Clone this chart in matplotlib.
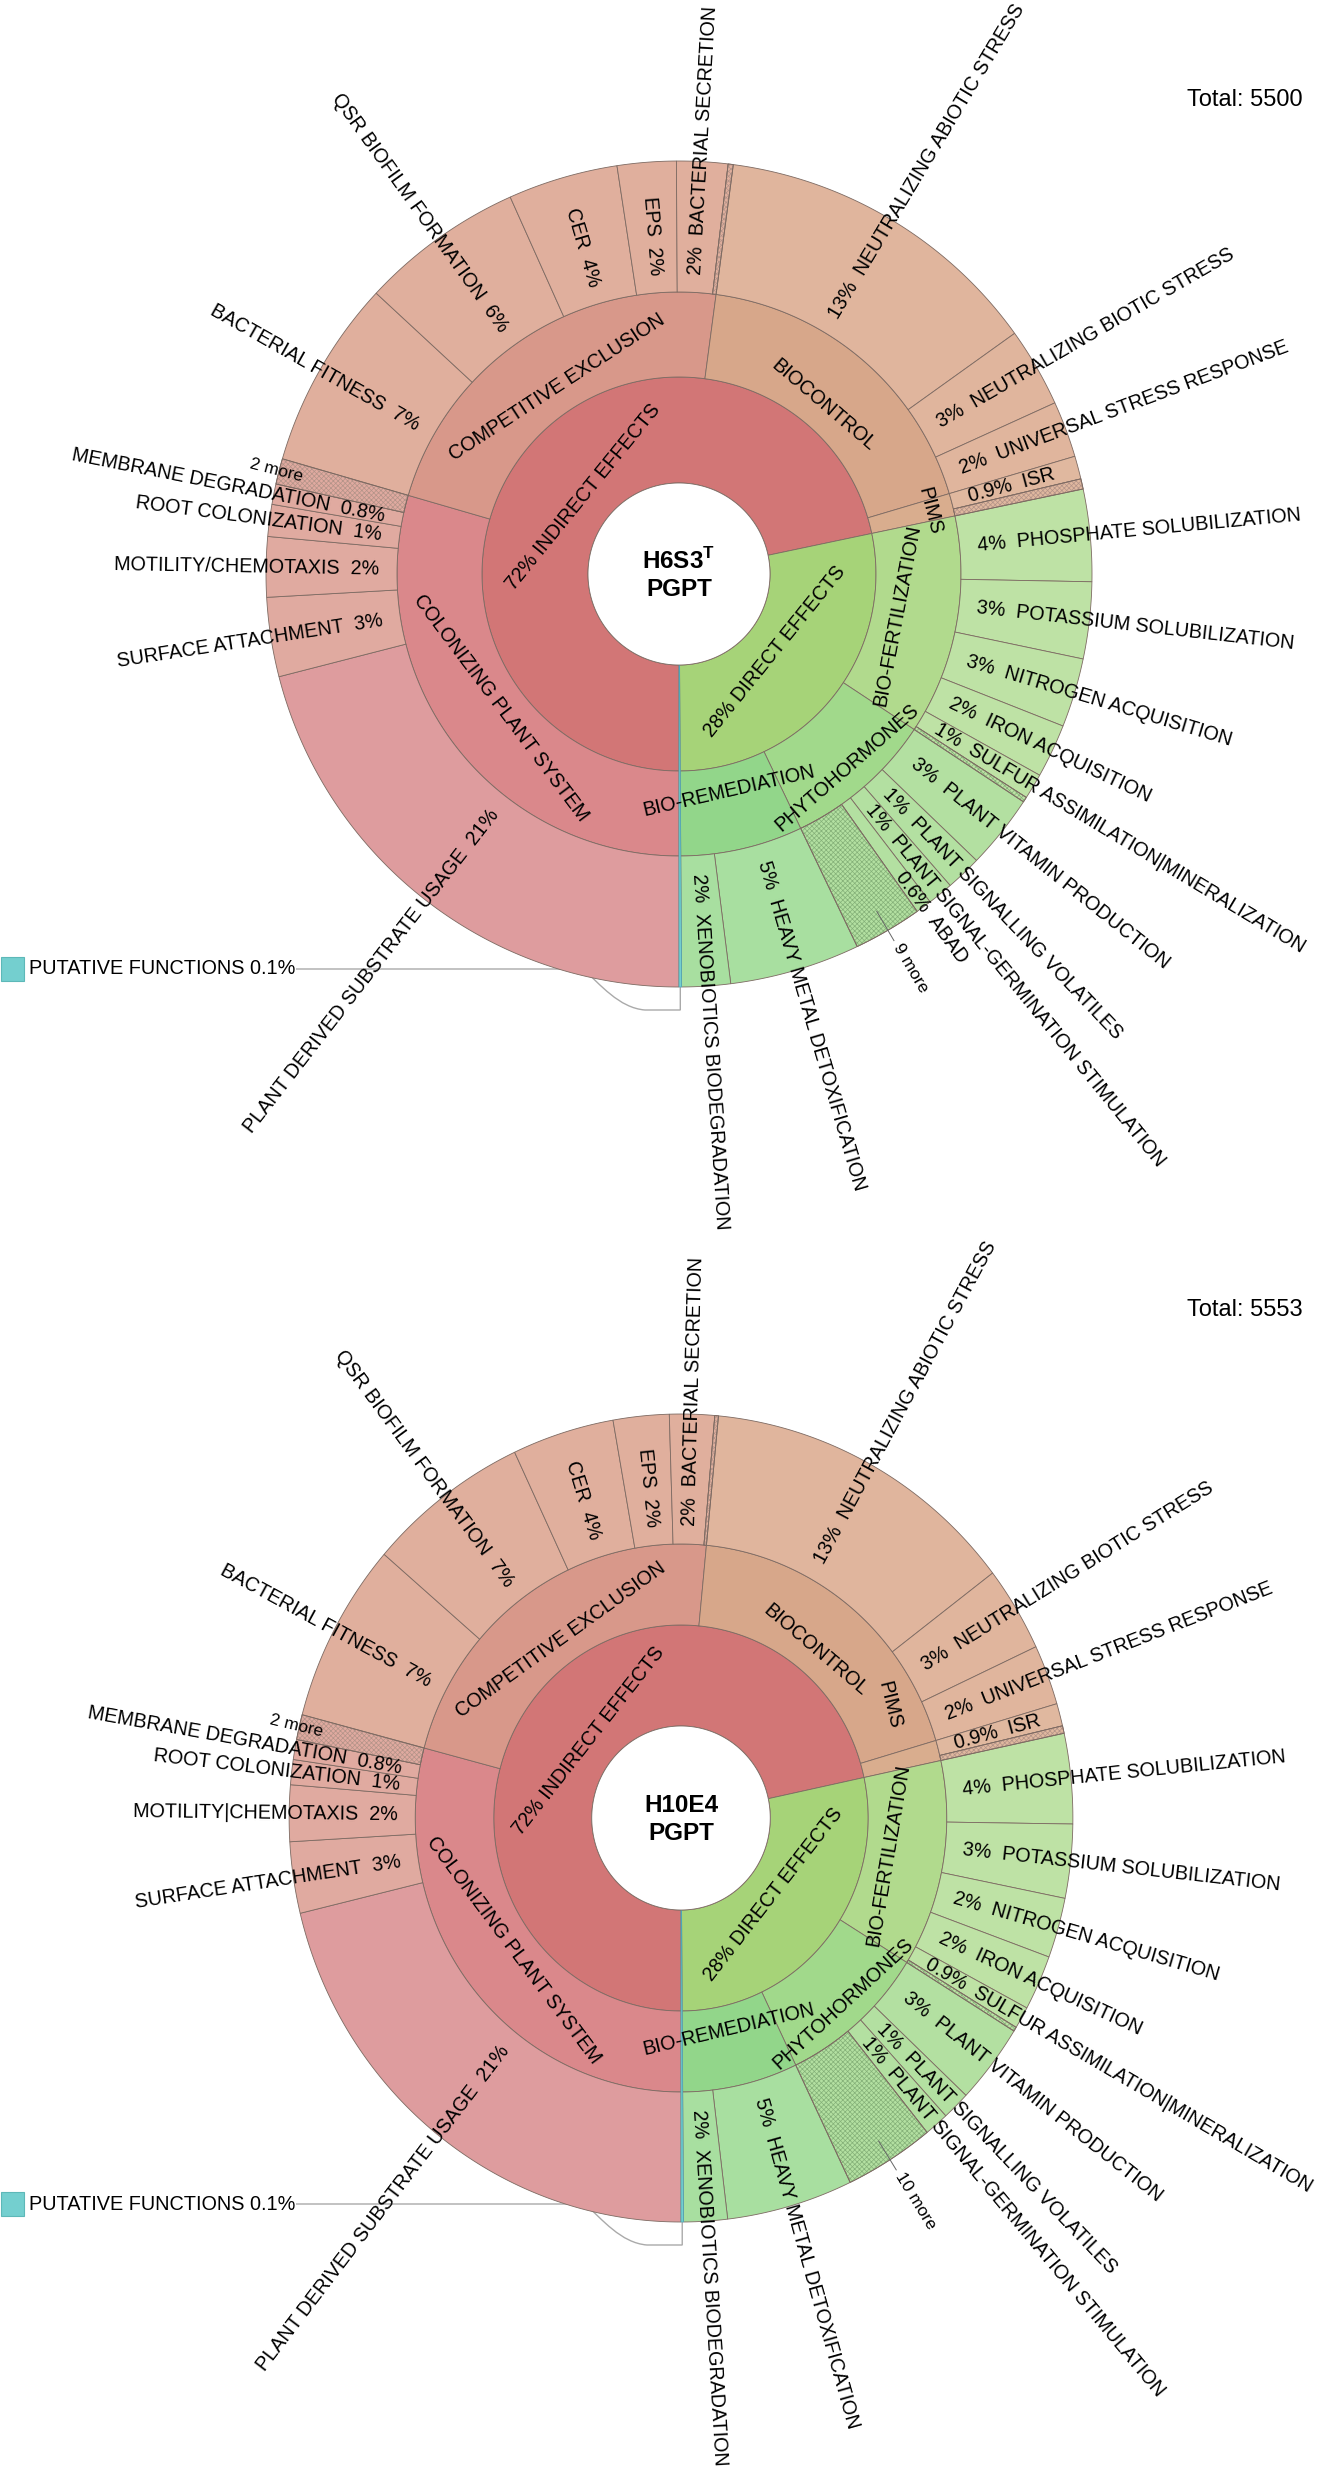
import numpy as np
import matplotlib
matplotlib.use("Agg")
import matplotlib.pyplot as plt
from matplotlib.patches import Polygon, Rectangle, PathPatch
from matplotlib.path import Path

plt.rcParams['font.family'] = ['Liberation Sans', 'DejaVu Sans']
plt.rcParams['mathtext.fontset'] = 'custom'
plt.rcParams['mathtext.rm'] = 'Liberation Sans'
plt.rcParams['mathtext.bf'] = 'Liberation Sans:bold'
plt.rcParams['hatch.linewidth'] = 0.5

# ---------------- data ----------------
top_names = ["INDIRECT EFFECTS", "DIRECT EFFECTS", "PUTATIVE FUNCTIONS"]
mid_names = ["COLONIZING PLANT SYSTEM", "COMPETITIVE EXCLUSION", "BIOCONTROL", "PIMS",
             "BIO-FERTILIZATION", "PHYTOHORMONES", "BIO-REMEDIATION", "PUTATIVE"]
mid_parents = ["INDIRECT EFFECTS"] * 4 + ["DIRECT EFFECTS"] * 3 + ["PUTATIVE FUNCTIONS"]

# chart 1: H6S3T  (values in % of total, clockwise from 6 o'clock)
h6_leaf_names = [
    "PLANT DERIVED SUBSTRATE USAGE", "SURFACE ATTACHMENT", "MOTILITY/CHEMOTAXIS",
    "ROOT COLONIZATION", "MEMBRANE DEGRADATION", "2 more",
    "BACTERIAL FITNESS", "QSR BIOFILM FORMATION", "CER", "EPS", "BACTERIAL SECRETION", "",
    "NEUTRALIZING ABIOTIC STRESS", "NEUTRALIZING BIOTIC STRESS", "UNIVERSAL STRESS RESPONSE",
    "ISR", "",
    "PHOSPHATE SOLUBILIZATION", "POTASSIUM SOLUBILIZATION", "NITROGEN ACQUISITION",
    "IRON ACQUISITION", "SULFUR ASSIMILATION|MINERALIZATION", "",
    "PLANT VITAMIN PRODUCTION", "PLANT SIGNALLING VOLATILES",
    "PLANT SIGNAL-GERMINATION STIMULATION", "ABAD", "9 more",
    "HEAVY METAL DETOXIFICATION", "XENOBIOTICS BIODEGRADATION",
    "PUTATIVE FUNCTIONS"]
h6_leaf_parents = (["COLONIZING PLANT SYSTEM"] * 6 + ["COMPETITIVE EXCLUSION"] * 6 +
                   ["BIOCONTROL"] * 3 + ["PIMS"] * 2 + ["BIO-FERTILIZATION"] * 6 +
                   ["PHYTOHORMONES"] * 5 + ["BIO-REMEDIATION"] * 2 + ["PUTATIVE"])
h6_leaf_values = [21.0, 3.1, 2.35, 1.25, 0.8, 1.0,
                  7.4, 6.4, 4.3, 2.3, 2.0, 0.2,
                  13.0, 3.1, 2.2,
                  0.9, 0.4,
                  3.6, 3.0, 2.7, 2.1, 1.0, 0.2,
                  2.9, 1.4, 1.0, 0.62, 2.68,
                  5.1, 1.9,
                  0.1]
h6_total = 5500

# chart 2: H10E4
h10_leaf_names = [
    "PLANT DERIVED SUBSTRATE USAGE", "SURFACE ATTACHMENT", "MOTILITY|CHEMOTAXIS",
    "ROOT COLONIZATION", "MEMBRANE DEGRADATION", "2 more",
    "BACTERIAL FITNESS", "QSR BIOFILM FORMATION", "CER", "EPS", "BACTERIAL SECRETION", "",
    "NEUTRALIZING ABIOTIC STRESS", "NEUTRALIZING BIOTIC STRESS", "UNIVERSAL STRESS RESPONSE",
    "ISR", "",
    "PHOSPHATE SOLUBILIZATION", "POTASSIUM SOLUBILIZATION", "NITROGEN ACQUISITION",
    "IRON ACQUISITION", "SULFUR ASSIMILATION|MINERALIZATION", "",
    "PLANT VITAMIN PRODUCTION", "PLANT SIGNALLING VOLATILES",
    "PLANT SIGNAL-GERMINATION STIMULATION", "10 more",
    "HEAVY METAL DETOXIFICATION", "XENOBIOTICS BIODEGRADATION",
    "PUTATIVE FUNCTIONS"]
h10_leaf_parents = (["COLONIZING PLANT SYSTEM"] * 6 + ["COMPETITIVE EXCLUSION"] * 6 +
                    ["BIOCONTROL"] * 3 + ["PIMS"] * 2 + ["BIO-FERTILIZATION"] * 6 +
                    ["PHYTOHORMONES"] * 4 + ["BIO-REMEDIATION"] * 2 + ["PUTATIVE"])
h10_leaf_values = [21.2, 2.85, 2.25, 1.0, 0.8, 1.0,
                   7.2, 6.7, 4.2, 2.3, 1.85, 0.15,
                   13.1, 3.4, 2.4,
                   0.9, 0.3,
                   3.6, 2.95, 2.4, 2.2, 0.88, 0.17,
                   3.2, 1.15, 1.0, 3.7,
                   5.2, 1.8,
                   0.1]
h10_total = 5553

# ---------------- style ----------------
TOP_COLOR = {"INDIRECT EFFECTS": "#D27676", "DIRECT EFFECTS": "#A6D378",
             "PUTATIVE FUNCTIONS": "#74CFCF"}
MID_COLOR = {"COLONIZING PLANT SYSTEM": "#DA888B", "COMPETITIVE EXCLUSION": "#D8988A",
             "BIOCONTROL": "#D7A78A", "PIMS": "#D9AD8E", "BIO-FERTILIZATION": "#B1DA8D",
             "PHYTOHORMONES": "#A1D98B", "BIO-REMEDIATION": "#92D68A", "PUTATIVE": "#74CFCF"}
LEAF_COLOR = {"COLONIZING PLANT SYSTEM": "#E0AAA0", "COMPETITIVE EXCLUSION": "#E0AF9D",
              "BIOCONTROL": "#E0B59D", "PIMS": "#E0B89F", "BIO-FERTILIZATION": "#BEE2A5",
              "PHYTOHORMONES": "#B3E0A1", "BIO-REMEDIATION": "#A8DFA0", "PUTATIVE": "#74CFCF"}
LEAF_OVERRIDE = {"PLANT DERIVED SUBSTRATE USAGE": "#DE9C9E"}
HATCH_RED = "#B39388"
HATCH_GREEN = "#84B078"
EDGE = "#7d6a62"
FS = 14.2

MID_LABEL_FRAC = {"PHYTOHORMONES": 0.7, "PIMS": 0.72}


def P(cx, cy, sx, r, th):
    t = np.radians(th)
    return cx + sx * r * np.sin(t), cy - r * np.cos(t)


def sector(ax, cx, cy, sx, ri, ro, t1, t2, fc, hatch_col=None, ec=EDGE, lw=0.6, z=2):
    n = max(4, int(abs(t2 - t1) * 2))
    th = np.linspace(t1, t2, n)
    xo, yo = P(cx, cy, sx, ro, th)
    xi, yi = P(cx, cy, sx, ri, th[::-1])
    pts = np.column_stack([np.concatenate([xo, xi]), np.concatenate([yo, yi])])
    ax.add_patch(Polygon(pts, closed=True, facecolor=fc, edgecolor=ec, linewidth=lw, zorder=z))
    if hatch_col is not None:
        ax.add_patch(Polygon(pts, closed=True, facecolor='none', edgecolor=hatch_col,
                             linewidth=0, hatch='xxxxxxx', zorder=z + 0.1))
        ax.add_patch(Polygon(pts, closed=True, facecolor='none', edgecolor=ec,
                             linewidth=lw, zorder=z + 0.2))


def rot_out(sx, th):
    t = np.radians(th)
    return np.degrees(np.arctan2(np.cos(t), sx * np.sin(t)))


def norm180(a):
    return (a + 180) % 360 - 180


def radial_text(ax, cx, cy, sx, r, th, s, size, anchor='start'):
    x, y = P(cx, cy, sx, r, th)
    ro = rot_out(sx, th)
    right = (th % 360) < 180
    if right:
        rot, ha = ro, 'left'
    else:
        rot, ha = norm180(ro + 180), 'right'
    if anchor == 'center':
        ha = 'center'
    ax.text(x, y, s, rotation=rot, rotation_mode='anchor', ha=ha, va='center',
            fontsize=size, zorder=6)


def tangential_text(ax, cx, cy, sx, r, th, s, size, th_rot=None):
    x, y = P(cx, cy, sx, r, th)
    t = np.radians(th if th_rot is None else th_rot)
    rot = np.degrees(np.arctan2(-np.sin(t), sx * np.cos(t)))
    if rot > 90:
        rot -= 180
    elif rot <= -90:
        rot += 180
    ax.text(x, y, s, rotation=rot, rotation_mode='anchor', ha='center', va='center',
            fontsize=size, zorder=6)


def pct_str(p):
    if p >= 0.95:
        return f"{p:.0f}%"
    return f"{p:.1f}%"


def draw_chart(ax, cx, cy, radii, sx, names, parents, values, total, title,
               total_y, label_start_extra, mid_label_pos):
    r0, r1, r2, r3 = radii
    vals = np.asarray(values, float)
    tot = vals.sum()
    edges = 180 + np.concatenate([[0.0], np.cumsum(vals)]) / tot * 360.0
    pcts = vals / tot * 100

    mids = {}
    for m in mid_names:
        idx = [i for i, p in enumerate(parents) if p == m]
        mids[m] = (edges[min(idx)], edges[max(idx) + 1], pcts[idx].sum())
    tops = {}
    for tname in top_names:
        ms = [m for m, p in zip(mid_names, mid_parents) if p == tname]
        tops[tname] = (min(mids[m][0] for m in ms), max(mids[m][1] for m in ms),
                       sum(mids[m][2] for m in ms))

    # ring 1
    for tname, (t1, t2, p) in tops.items():
        if tname == "PUTATIVE FUNCTIONS":
            continue
        sector(ax, cx, cy, sx, r0, r1, t1, t2, TOP_COLOR[tname])
        tangential_text(ax, cx, cy, sx, r0 + 0.3 * (r1 - r0), (t1 + t2) / 2,
                        f"{p:.0f}% {tname}", FS)
    # ring 2
    for m, (t1, t2, p) in mids.items():
        if m == "PUTATIVE":
            continue
        sector(ax, cx, cy, sx, r1, r2, t1, t2, MID_COLOR[m])
        frac = MID_LABEL_FRAC.get(m, 0.3)
        tm = (t1 + t2) / 2
        if m in mid_label_pos:
            frac, dth = mid_label_pos[m]
            tangential_text(ax, cx, cy, sx, r1 + frac * (r2 - r1), tm + dth, m, FS, th_rot=tm)
        else:
            tangential_text(ax, cx, cy, sx, r1 + frac * (r2 - r1), tm, m, FS)
    # ring 3 (leaves)
    for i, (nm, par) in enumerate(zip(names, parents)):
        if par == "PUTATIVE":
            continue
        t1, t2 = edges[i], edges[i + 1]
        tm = (t1 + t2) / 2
        fc = LEAF_OVERRIDE.get(nm, LEAF_COLOR[par])
        is_more = nm == "" or nm.endswith(" more")
        hc = None
        if is_more:
            d1, d2, _ = tops["DIRECT EFFECTS"]
            hc = HATCH_GREEN if d1 <= tm <= d2 else HATCH_RED
        sector(ax, cx, cy, sx, r2, r3, t1, t2, fc, hatch_col=hc)
        if nm == "":
            continue
        if nm.endswith(" more"):
            if (tm % 360) < 180:
                xa, ya = P(cx, cy, sx, r3 - 22, tm)
                xb, yb = P(cx, cy, sx, r3 + 12, tm)
                ax.plot([xa, xb], [ya, yb], color='#666666', lw=0.7, zorder=6)
                radial_text(ax, cx, cy, sx, r3 + 17, tm, nm, 12.5)
            else:
                radial_text(ax, cx, cy, sx, r3 + 3, tm, nm, 12.5, anchor='center')
            continue
        ps = pct_str(pcts[i])
        s = f"{ps}  {nm}" if (tm % 360) < 180 else f"{nm}  {ps}"
        rs = r2 + 18 + label_start_extra.get(nm, 0)
        radial_text(ax, cx, cy, sx, rs, tm, s, FS)

    # putative functions: thin wedge through all rings + external label
    pt1, pt2, pp = tops["PUTATIVE FUNCTIONS"]
    sector(ax, cx, cy, sx, r0, r3, pt1, pt2, TOP_COLOR["PUTATIVE FUNCTIONS"],
           ec="#4aa7b8", lw=0.5, z=3)
    ly = cy + r3 - 18
    ax.add_patch(Rectangle((1, ly - 12), 23, 24, facecolor="#74CFCF",
                           edgecolor="#5DB8B8", lw=0.8, zorder=6))
    ax.text(29, ly, f"PUTATIVE FUNCTIONS {pct_str(pp)}",
            ha='left', va='center', fontsize=14.3, zorder=6)
    xe, ye = P(cx, cy, sx, r3, (pt1 + pt2) / 2)
    yb = cy + r3 + 23
    verts = [(296, ly), (cx - 96, ly), (cx - 79, ly + 15), (cx - 60, yb - 2),
             (cx - 34, yb), (xe, yb), (xe, ye)]
    codes = [Path.MOVETO, Path.LINETO, Path.CURVE4, Path.CURVE4, Path.CURVE4,
             Path.LINETO, Path.LINETO]
    ax.add_patch(PathPatch(Path(verts, codes), facecolor='none', edgecolor='#aaaaaa',
                           lw=1.0, zorder=1))

    # center
    cth = np.linspace(0, 360, 361)
    xc, yc = P(cx, cy, sx, r0, cth)
    ax.add_patch(Polygon(np.column_stack([xc, yc]), closed=True, facecolor='white',
                         edgecolor=EDGE, lw=0.6, zorder=4))
    ax.text(cx, cy - 13, title, ha='center', va='center', fontsize=17.5,
            fontweight='bold', zorder=6)
    ax.text(cx, cy + 15, "PGPT", ha='center', va='center', fontsize=17.5,
            fontweight='bold', zorder=6)
    ax.text(1303, total_y, f"Total: {total}", ha='right', va='center', fontsize=17, zorder=6)


fig = plt.figure(figsize=(13.18, 24.8), dpi=100)
ax = fig.add_axes([0, 0, 1, 1])
ax.set_xlim(0, 1318)
ax.set_ylim(2480, 0)
ax.axis('off')

draw_chart(ax, 679, 574, (91, 197, 282, 413), 1.0,
           h6_leaf_names, h6_leaf_parents, h6_leaf_values, h6_total,
           r"H6S3$^{\mathbf{T}}$", 100, {"ABAD": 72}, {})
draw_chart(ax, 681, 1818, (92, 193, 274, 404), 0.97,
           h10_leaf_names, h10_leaf_parents, h10_leaf_values, h10_total,
           "H10E4", 1310, {}, {"PIMS": (0.62, -13.5)})

fig.savefig("out.png", dpi=100, facecolor='white')
